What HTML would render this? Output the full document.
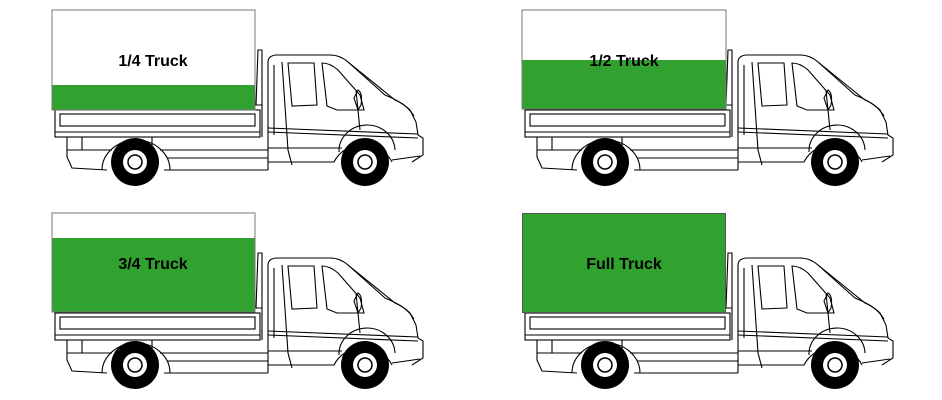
<!DOCTYPE html>
<html><head><style>html,body{margin:0;padding:0;background:#fff}svg{display:block}</style></head>
<body>
<svg width="942" height="400" viewBox="0 0 942 400" xmlns="http://www.w3.org/2000/svg">
<defs>
<g id="truck" fill="none" stroke="#000" stroke-width="1.1">
  <!-- bed -->
  <rect x="3" y="100" width="205" height="27" fill="#fff"/>
  <rect x="8" y="104" width="195" height="12"/>
  <line x1="3" y1="122" x2="208" y2="122"/>
  <!-- post -->
  <path d="M206,40 L210,40 L210,95 L204,95 Z" fill="#fff"/>
  <line x1="210" y1="95" x2="210" y2="127"/>
  <!-- chassis under bed -->
  <path d="M15,127 L15,147 L20,158 L55,160 M112,160 L216,160 M15,140 L60,140 M108,140 L216,140 M30,127 L30,140 M100,127 L100,140 M115,148 L216,148"/>
  <path d="M50,160 A34,30 0 0 1 118,160"/>
  <!-- cab -->
  <path d="M216,160 L216,52 Q216,46 224,45 L278,45 Q288,45 296,52 L333,85 Q350,92 358,100 L364,112 L366,125 L371,128 L371,145 L360,152 M340,152 A32,30 0 0 0 282,152 L216,152" fill="#fff"/>
  <path d="M222,55 L222,125"/>
  <path d="M236,53 L262,53 L265,95 L240,96 Z"/>
  <path d="M270,53 Q278,53 286,60 L308,85 L312,100 L285,100 L275,96 Z"/>
  <path d="M216,118 L366,124 M216,122 L366,128 M216,138 L290,138"/>
  <path d="M230,52 L236,140 L240,155"/>
  <path d="M304,80 L308,120 M306,80 Q311,83 309,95 L306,100 L302,88 Z"/>
  <path d="M296,52 L343,90 Q355,95 362,106"/>
  <path d="M340,150 L368,146"/>
  <path d="M287,142 A28,26 0 0 1 343,140"/>
  <!-- wheels -->
  <circle cx="83" cy="152" r="24" fill="#000" stroke="none"/>
  <circle cx="83" cy="152" r="12" fill="#fff" stroke="none"/>
  <circle cx="83" cy="152" r="7" fill="#fff" stroke="#000" stroke-width="1.5"/>
  <circle cx="313" cy="152" r="24" fill="#000" stroke="none"/>
  <circle cx="313" cy="152" r="12" fill="#fff" stroke="none"/>
  <circle cx="313" cy="152" r="7" fill="#fff" stroke="#000" stroke-width="1.5"/>
</g>
</defs>
<g font-family="'Liberation Sans',sans-serif" font-weight="bold" font-size="16" text-anchor="middle">
<!-- 1/4 -->
<use href="#truck" transform="translate(52,10)"/>
<rect x="52" y="10" width="203" height="100" fill="#fff" stroke="#777"/>
<rect x="52.5" y="85" width="202" height="24.5" fill="#31a22f"/>
<text x="153" y="66">1/4 Truck</text>
<!-- 1/2 -->
<use href="#truck" transform="translate(522,10)"/>
<rect x="522" y="10" width="204" height="99" fill="#fff" stroke="#777"/>
<rect x="522.5" y="60" width="203" height="48.5" fill="#31a22f"/>
<text x="624" y="66">1/2 Truck</text>
<!-- 3/4 -->
<use href="#truck" transform="translate(52,213)"/>
<rect x="52" y="213" width="203" height="99" fill="#fff" stroke="#777"/>
<rect x="52.5" y="238" width="202" height="73.5" fill="#31a22f"/>
<text x="153" y="269">3/4 Truck</text>
<!-- full -->
<use href="#truck" transform="translate(522,213)"/>
<rect x="522.5" y="213.5" width="203" height="99" fill="#31a22f" stroke="#555"/>
<text x="624" y="269">Full Truck</text>
</g>
</svg>
</body></html>
